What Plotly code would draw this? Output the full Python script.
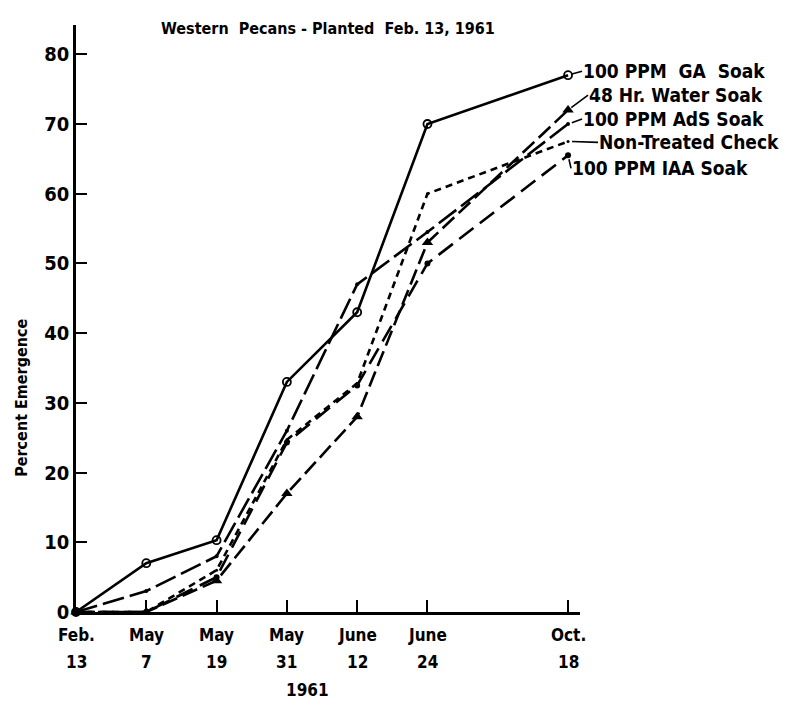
import plotly.graph_objects as go

# ---- data ----
x_index = [0, 1, 2, 3, 4, 5, 7]
month_labels = ["Feb.", "May", "May", "May", "June", "June", "Oct."]
day_labels = ["13", "7", "19", "31", "12", "24", "18"]
year_label = "1961"

series_names = ["100 PPM  GA  Soak", "48 Hr. Water Soak", "100 PPM AdS Soak",
                "Non-Treated Check", "100 PPM IAA Soak"]
ga_soak = [0, 7, 10.3, 33, 43, 70, 77]
water_soak = [0, 0, 4.5, 17, 28, 53, 72]
ads_soak = [0, 3, 8, 26, 47, 54.5, 70]
check = [0, 0, 6, 24.7, 32.8, 60, 67.5]
iaa_soak = [0, 0, 5, 24.3, 32.5, 50, 65.5]

y_ticks = [0, 10, 20, 30, 40, 50, 60, 70, 80]

FONT = "Liberation Sans Narrow, DejaVu Sans Condensed, Roboto Condensed, Roboto, sans-serif"

fig = go.Figure()

styles = [
    (ga_soak, "solid", dict(symbol="circle-open", size=8, color="black", line=dict(width=1.8, color="black"))),
    (water_soak, "16px,6px", dict(symbol="triangle-up", size=10, color="black")),
    (ads_soak, "22px,6px", dict(symbol="circle", size=4, color="black")),
    (check, "7px,5px", dict(symbol="circle", size=3, color="black")),
    (iaa_soak, "18px,8px", dict(symbol="circle", size=6, color="black")),
]
for name, (vals, dash, marker) in zip(series_names, styles):
    fig.add_trace(go.Scatter(
        x=x_index, y=vals, name=name, mode="lines+markers",
        line=dict(color="black", width=2.6, dash=dash),
        marker=marker, showlegend=False, cliponaxis=False,
    ))

annotations = []
# x tick labels (two rows)
for xi, m, d in zip(x_index, month_labels, day_labels):
    annotations.append(dict(x=xi, y=0, xref="x", yref="paper", text="<b>%s</b>" % m,
                            showarrow=False, yshift=-23, yanchor="middle",
                            font=dict(size=17, family=FONT, color="black")))
    annotations.append(dict(x=xi, y=0, xref="x", yref="paper", text="<b>%s</b>" % d,
                            showarrow=False, yshift=-50, yanchor="middle",
                            font=dict(size=17, family=FONT, color="black")))
annotations.append(dict(x=3.3, y=0, xref="x", yref="paper", text="<b>%s</b>" % year_label,
                        showarrow=False, yshift=-78, yanchor="middle",
                        font=dict(size=17, family=FONT, color="black")))

# y title
annotations.append(dict(x=0, y=0.364, xref="paper", yref="paper", text="<b>Percent Emergence</b>",
                        textangle=-90, showarrow=False, xshift=-66,
                        font=dict(size=16, family=FONT, color="black")))

# title
annotations.append(dict(x=0.5, y=1, xref="paper", yref="paper", text="<b>Western  Pecans - Planted  Feb. 13, 1961</b>",
                        showarrow=False, yshift=8, xanchor="center",
                        font=dict(size=16, family=FONT, color="black")))

# series labels with leaders
offsets = [(14, -4), (20, -15), (14, -5), (30, 1), (3, 13)]
all_vals = [ga_soak, water_soak, ads_soak, check, iaa_soak]
for name, vals, (ax, ay) in zip(series_names, all_vals, offsets):
    annotations.append(dict(x=x_index[-1], y=vals[-1], xref="x", yref="y",
                            text="<b>%s</b>" % name, showarrow=True, arrowhead=0,
                            arrowwidth=1.6, arrowcolor="black", ax=ax, ay=ay,
                            xanchor="left", yanchor="middle", standoff=4, borderpad=0,
                            font=dict(size=19, family=FONT, color="black")))

fig.update_layout(
    width=799, height=703,
    margin=dict(l=68, r=227, t=17, b=99),
    paper_bgcolor="white", plot_bgcolor="white",
    annotations=annotations,
    xaxis=dict(range=[0, 7.17], showgrid=False, zeroline=False, showline=True,
               linecolor="black", linewidth=2.5, ticks="inside", ticklen=12,
               tickwidth=2, tickcolor="black", tickvals=x_index, showticklabels=False),
    yaxis=dict(range=[0, 84.2], showgrid=False, zeroline=False, showline=True,
               linecolor="black", linewidth=2.5, ticks="inside", ticklen=11,
               tickwidth=2, tickcolor="black", tickvals=y_ticks,
               ticktext=["<b>%d</b>" % v for v in y_ticks],
               tickfont=dict(size=20, family=FONT, color="black")),
)

fig.write_html("out.html")
